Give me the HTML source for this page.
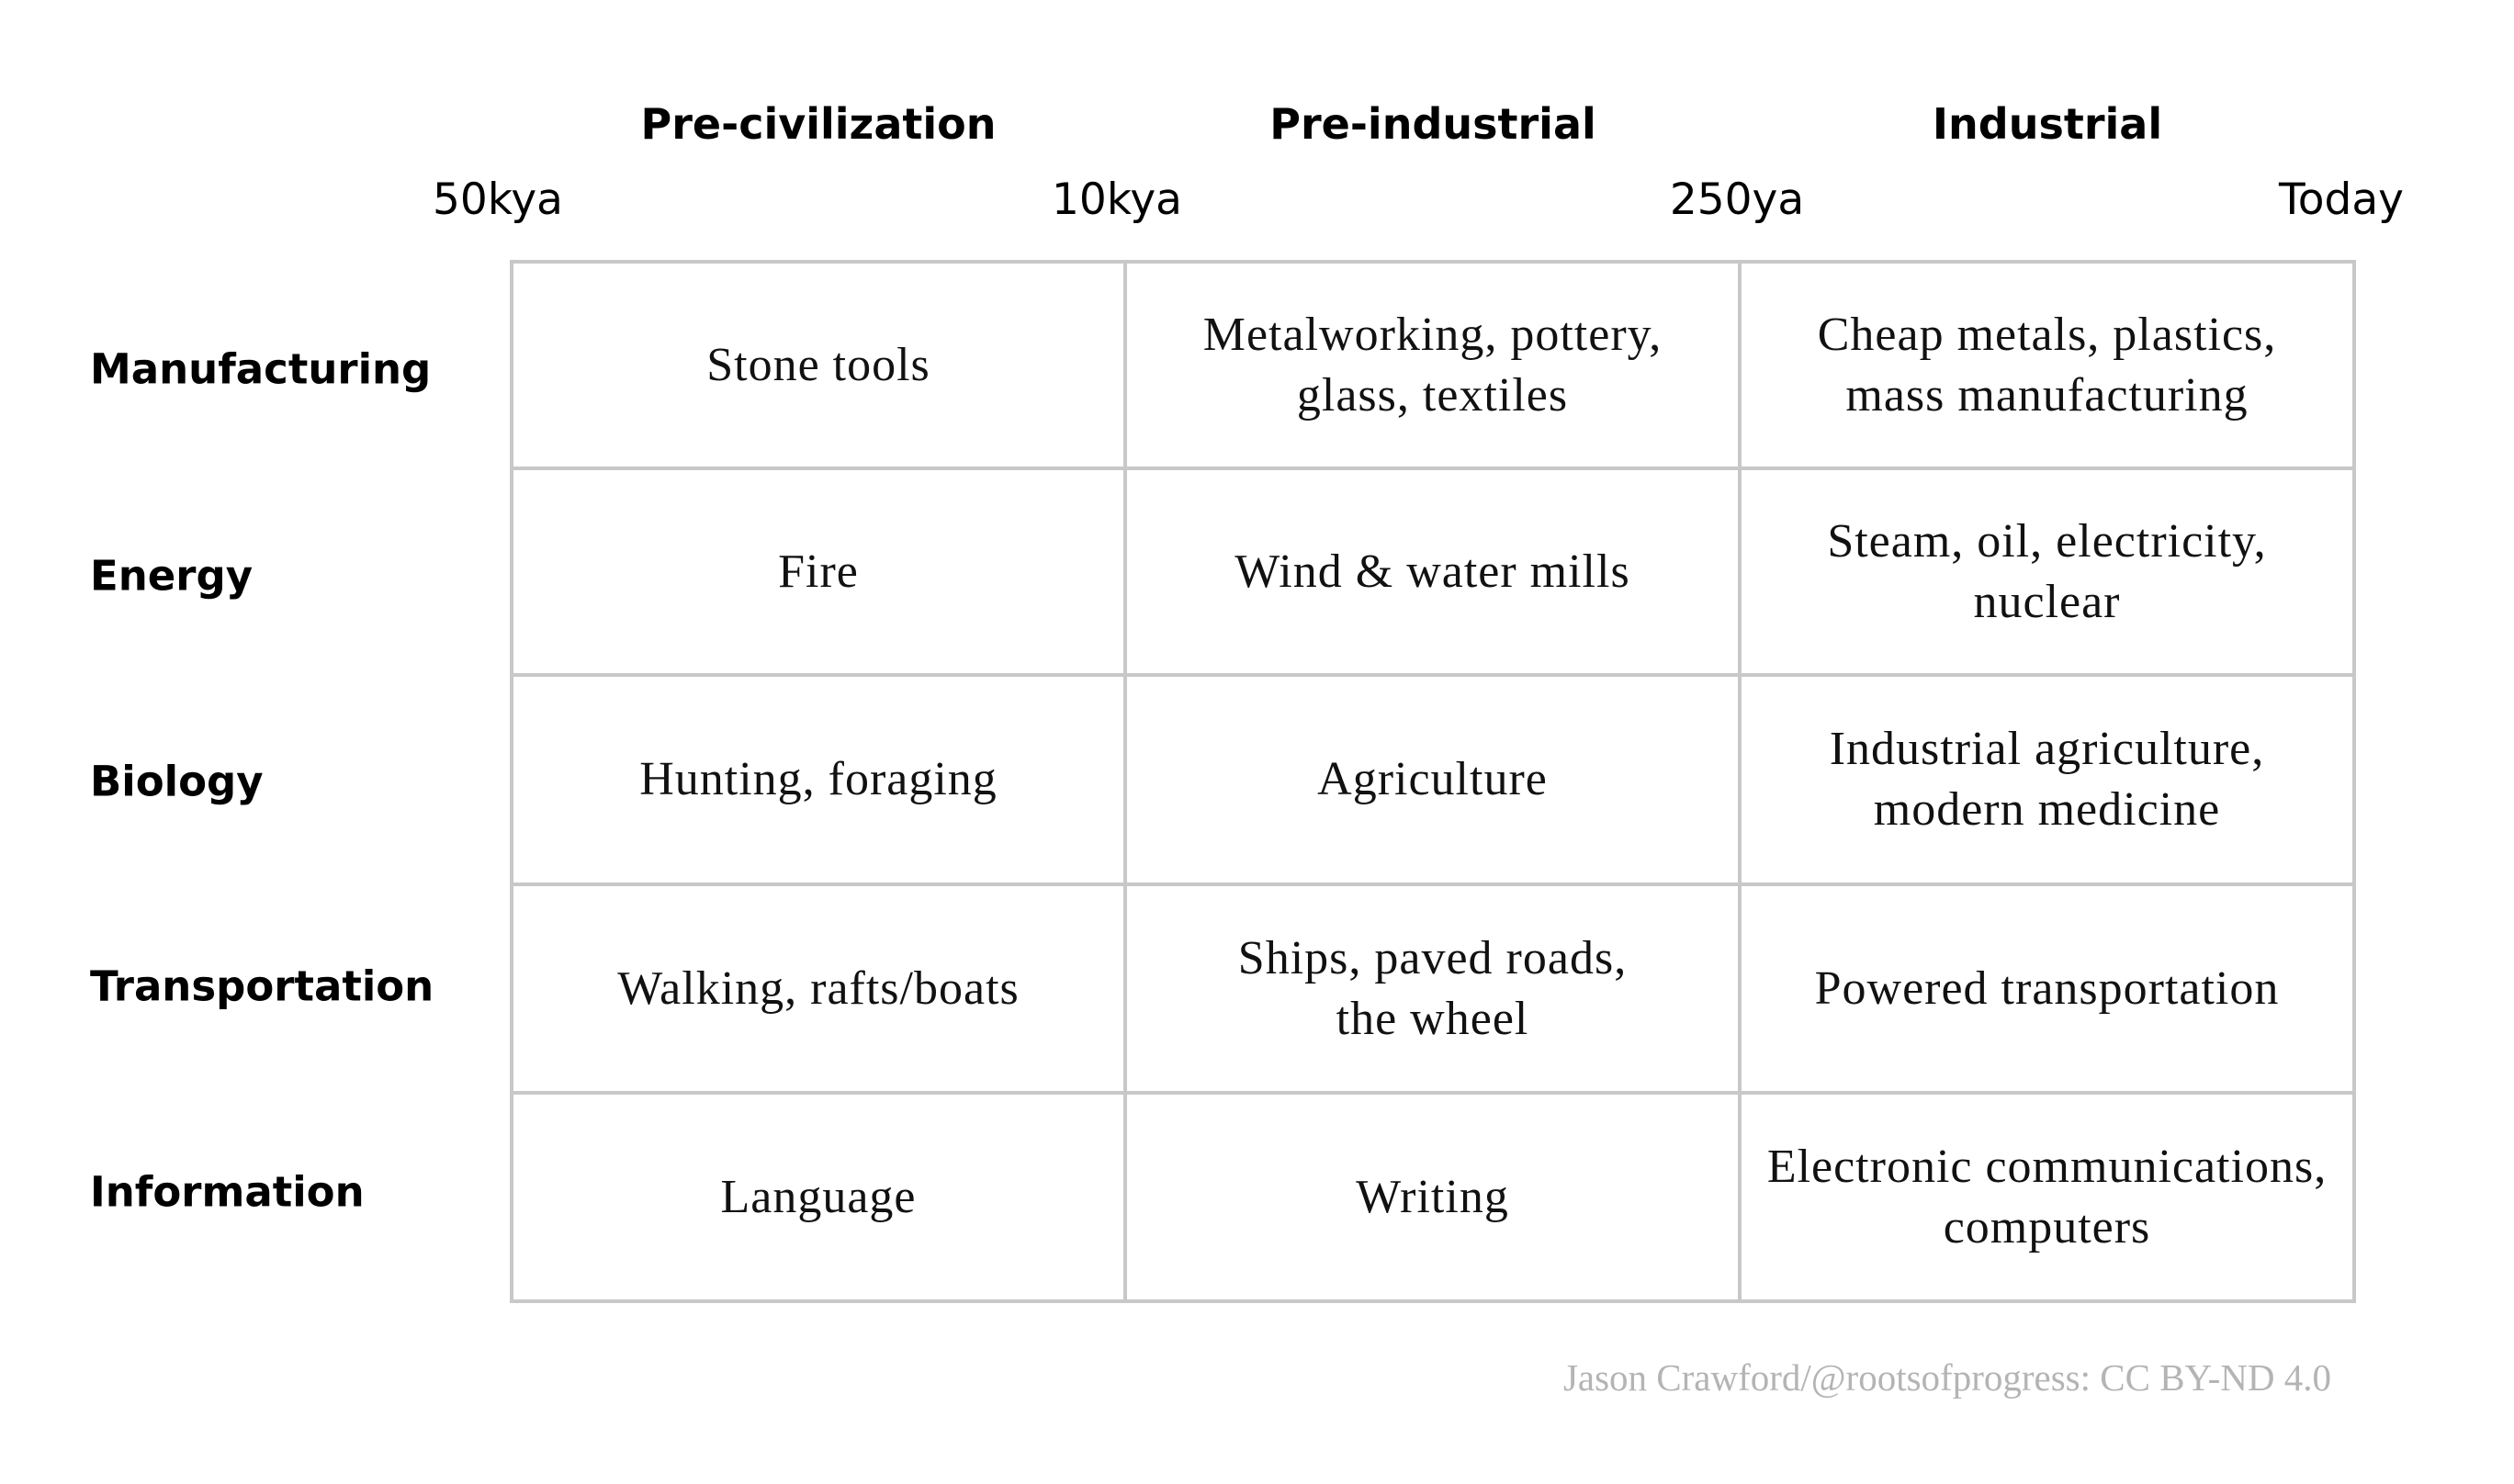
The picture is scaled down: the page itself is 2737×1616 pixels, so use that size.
<!DOCTYPE html>
<html><head><meta charset="utf-8"><style>
html,body{margin:0;padding:0;background:#fff;}
body{width:2737px;height:1616px;position:relative;overflow:hidden;}
.s{font-family:"DejaVu Sans","Liberation Sans",sans-serif;color:#000;position:absolute;white-space:nowrap;}
.b{font-weight:bold;font-size:45px;}
.hb{font-weight:bold;font-size:46px;}
.t{font-size:47px;transform:translateX(-50%);}
.h{transform:translateX(-50%);}
.r{left:98px;transform:translateY(-50%);}
.c{position:absolute;display:flex;align-items:center;justify-content:center;text-align:center;font-family:"Liberation Serif",serif;font-size:52px;line-height:66px;letter-spacing:1px;color:#111;}
.hl{position:absolute;background:#c8c8c8;height:4px;left:555px;width:2010px;}
.vl{position:absolute;background:#c8c8c8;width:4px;top:283px;height:1136px;}
</style></head><body>
<div class="s hb h" style="left:891px;top:108px">Pre-civilization</div>
<div class="s hb h" style="left:1560px;top:108px">Pre-industrial</div>
<div class="s hb h" style="left:2229px;top:108px">Industrial</div>
<div class="s t" style="left:542px;top:190px">50kya</div>
<div class="s t" style="left:1216px;top:190px">10kya</div>
<div class="s t" style="left:1891px;top:190px">250ya</div>
<div class="s t" style="left:2549px;top:190px">Today</div>
<div class="s b r" style="top:402px">Manufacturing</div>
<div class="s b r" style="top:627px">Energy</div>
<div class="s b r" style="top:851px">Biology</div>
<div class="s b r" style="top:1074px">Transportation</div>
<div class="s b r" style="top:1298px">Information</div>
<div class="hl" style="top:283px"></div><div class="hl" style="top:508px"></div><div class="hl" style="top:733px"></div><div class="hl" style="top:961px"></div><div class="hl" style="top:1188px"></div><div class="hl" style="top:1415px"></div>
<div class="vl" style="left:555px"></div><div class="vl" style="left:1223px"></div><div class="vl" style="left:1892px"></div><div class="vl" style="left:2561px"></div>
<div class="c" style="left:557px;width:668px;top:285px;height:225px">Stone tools</div>
<div class="c" style="left:1225px;width:669px;top:285px;height:225px">Metalworking, pottery,<br>glass, textiles</div>
<div class="c" style="left:1894px;width:669px;top:285px;height:225px">Cheap metals, plastics,<br>mass manufacturing</div>
<div class="c" style="left:557px;width:668px;top:510px;height:225px">Fire</div>
<div class="c" style="left:1225px;width:669px;top:510px;height:225px">Wind &amp; water mills</div>
<div class="c" style="left:1894px;width:669px;top:510px;height:225px">Steam, oil, electricity,<br>nuclear</div>
<div class="c" style="left:557px;width:668px;top:735px;height:228px">Hunting, foraging</div>
<div class="c" style="left:1225px;width:669px;top:735px;height:228px">Agriculture</div>
<div class="c" style="left:1894px;width:669px;top:735px;height:228px">Industrial agriculture,<br>modern medicine</div>
<div class="c" style="left:557px;width:668px;top:963px;height:227px">Walking, rafts/boats</div>
<div class="c" style="left:1225px;width:669px;top:963px;height:227px">Ships, paved roads,<br>the wheel</div>
<div class="c" style="left:1894px;width:669px;top:963px;height:227px">Powered transportation</div>
<div class="c" style="left:557px;width:668px;top:1190px;height:227px">Language</div>
<div class="c" style="left:1225px;width:669px;top:1190px;height:227px">Writing</div>
<div class="c" style="left:1894px;width:669px;top:1190px;height:227px">Electronic communications,<br>computers</div>
<div style="position:absolute;right:199px;top:1476px;font-family:'Liberation Serif',serif;font-size:41px;color:#b4b4b4;white-space:nowrap;">Jason Crawford/@rootsofprogress: CC BY-ND 4.0</div>
</body></html>
